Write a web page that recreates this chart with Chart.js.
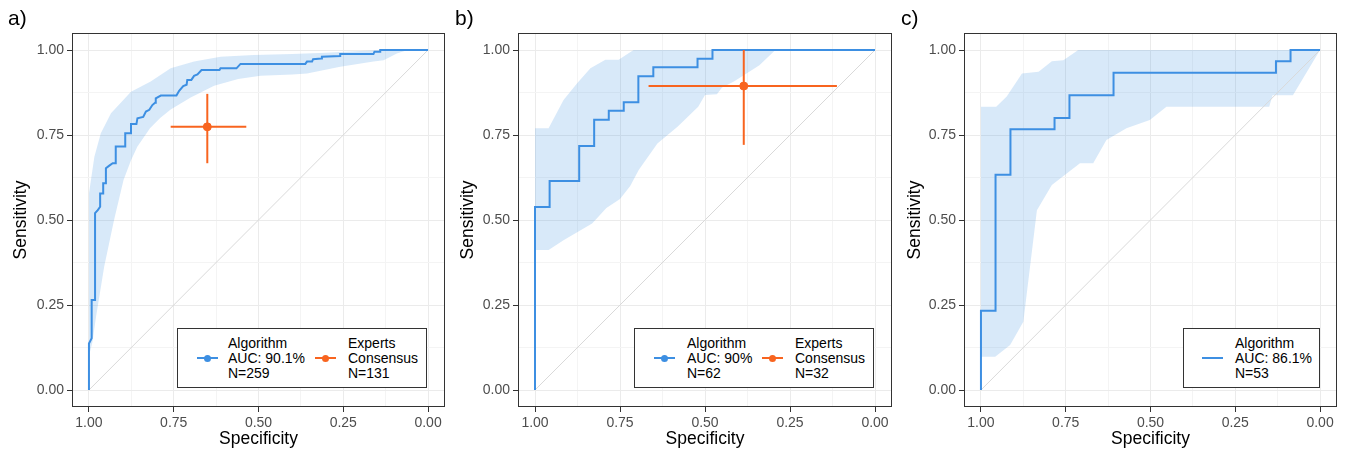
<!DOCTYPE html>
<html>
<head>
<meta charset="utf-8">
<script src="https://cdn.jsdelivr.net/npm/chart.js@4.4.1/dist/chart.umd.min.js"></script>
<style>
  body { margin: 0; background: #fff; font-family: "Liberation Sans", Arial, sans-serif; }
  #wrap { position: relative; width: 1350px; height: 454px; overflow: hidden; }
  canvas { position: absolute; top: 0; }
  .tag { position: absolute; top: 7px; font-size: 21px; line-height: 21px; color: #000; }
  .legend { position: absolute; top: 328px; height: 60px; box-sizing: border-box; border: 1px solid #333; background: #fff; }
  .legend .ln { position: absolute; top: 28px; width: 21px; height: 2px; }
  .legend .dot { position: absolute; top: 25.5px; width: 7px; height: 7px; border-radius: 50%; }
  .legend .txt { position: absolute; top: 7px; font-size: 14px; line-height: 15px; color: #000; white-space: nowrap; }
</style>
</head>
<body>
<div id="wrap">
  <canvas id="roc-a" width="450" height="454" style="left:0px"></canvas>
  <canvas id="roc-b" width="450" height="454" style="left:450px"></canvas>
  <canvas id="roc-c" width="450" height="454" style="left:900px"></canvas>
</div>
<script>
// axis ticks
const tickValues = [0, 0.25, 0.5, 0.75, 1];
const tickLabels = ["0.00", "0.25", "0.50", "0.75", "1.00"];
const gridValues = [0, 0.125, 0.25, 0.375, 0.5, 0.625, 0.75, 0.875, 1];

// a) ROC curve, N=259
const specA = [1, 1, 0.992, 0.992, 0.982, 0.982, 0.974, 0.967, 0.967, 0.958, 0.958, 0.950, 0.950, 0.940, 0.930, 0.921, 0.921, 0.893, 0.893, 0.876, 0.876, 0.860, 0.857, 0.840, 0.832, 0.822, 0.813, 0.805, 0.803, 0.788, 0.742, 0.734, 0.722, 0.712, 0.710, 0.698, 0.690, 0.680, 0.668, 0.615, 0.612, 0.565, 0.553, 0.362, 0.357, 0.342, 0.339, 0.315, 0.313, 0.259, 0.259, 0.161, 0.158, 0.141, 0.141, 0];
const sensA = [0, 0.137, 0.152, 0.265, 0.265, 0.520, 0.529, 0.539, 0.578, 0.578, 0.608, 0.608, 0.652, 0.660, 0.667, 0.667, 0.716, 0.716, 0.755, 0.755, 0.782, 0.782, 0.799, 0.803, 0.819, 0.824, 0.838, 0.845, 0.858, 0.866, 0.866, 0.880, 0.894, 0.898, 0.912, 0.912, 0.924, 0.928, 0.941, 0.941, 0.946, 0.946, 0.959, 0.959, 0.966, 0.966, 0.973, 0.975, 0.980, 0.982, 0.988, 0.988, 0.995, 0.995, 1, 1];
const bandUpperA = [[1, 0.578], [0.984, 0.686], [0.965, 0.755], [0.935, 0.814], [0.876, 0.877], [0.818, 0.907], [0.759, 0.946], [0.690, 0.966], [0.612, 0.980], [0.514, 0.985], [0.40, 0.988], [0.30, 0.992], [0.20, 0.997], [0.12, 1], [0, 1]];
const bandLowerA = [[1, 0.10], [0.990, 0.14], [0.979, 0.216], [0.955, 0.363], [0.926, 0.5], [0.912, 0.559], [0.898, 0.618], [0.876, 0.676], [0.857, 0.716], [0.820, 0.770], [0.790, 0.800], [0.759, 0.825], [0.70, 0.860], [0.631, 0.895], [0.560, 0.915], [0.494, 0.924], [0.40, 0.928], [0.357, 0.931], [0.259, 0.951], [0.161, 0.966], [0.131, 0.970], [0.092, 0.990], [0.06, 1], [0, 1]];
const expertA = [0.651, 0.774];
const expertSpecCIA = [0.759, 0.536];
const expertSensCIA = [0.667, 0.871];
const legendAlgoA = ["Algorithm", "AUC: 90.1%", "N=259"];
const legendExpA = ["Experts", "Consensus", "N=131"];

// b) ROC curve, N=62
const specB = [1, 1, 0.957, 0.957, 0.870, 0.870, 0.826, 0.826, 0.783, 0.783, 0.739, 0.739, 0.696, 0.696, 0.652, 0.652, 0.522, 0.522, 0.478, 0.478, 0];
const sensB = [0, 0.538, 0.538, 0.615, 0.615, 0.718, 0.718, 0.795, 0.795, 0.821, 0.821, 0.846, 0.846, 0.923, 0.923, 0.949, 0.949, 0.974, 0.974, 1, 1];
const bandUpperB = [[1, 0.770], [0.96, 0.770], [0.916, 0.853], [0.876, 0.902], [0.837, 0.946], [0.793, 0.971], [0.754, 0.971], [0.710, 1], [0, 1]];
const bandLowerB = [[1, 0.412], [0.96, 0.412], [0.915, 0.441], [0.832, 0.49], [0.79, 0.535], [0.75, 0.562], [0.72, 0.60], [0.695, 0.647], [0.64, 0.725], [0.58, 0.775], [0.52, 0.833], [0.50, 0.868], [0.465, 0.870], [0.45, 0.89], [0.415, 0.907], [0.34, 0.955], [0.293, 1], [0, 1]];
const expertB = [0.386, 0.894];
const expertSpecCIB = [0.666, 0.112];
const expertSensCIB = [0.721, 1.0];
const legendAlgoB = ["Algorithm", "AUC: 90%", "N=62"];
const legendExpB = ["Experts", "Consensus", "N=32"];

// c) ROC curve, N=53
const specC = [1, 1, 0.957, 0.957, 0.913, 0.913, 0.783, 0.783, 0.739, 0.739, 0.609, 0.609, 0.130, 0.130, 0.087, 0.087, 0];
const sensC = [0, 0.233, 0.233, 0.633, 0.633, 0.767, 0.767, 0.8, 0.8, 0.867, 0.867, 0.933, 0.933, 0.967, 0.967, 1, 1];
const bandUpperC = [[1, 0.833], [0.955, 0.833], [0.924, 0.863], [0.879, 0.931], [0.830, 0.936], [0.791, 0.967], [0.757, 0.970], [0.713, 1], [0, 1]];
const bandLowerC = [[1, 0.098], [0.958, 0.098], [0.914, 0.132], [0.875, 0.201], [0.835, 0.529], [0.791, 0.603], [0.708, 0.667], [0.669, 0.667], [0.630, 0.735], [0.571, 0.770], [0.502, 0.794], [0.453, 0.833], [0.15, 0.833], [0.14, 0.867], [0.08, 0.867], [0, 1]];
const legendAlgoC = ["Algorithm", "AUC: 86.1%", "N=53"];

const diagonal = [[1, 0], [0, 1]];

const FONT = "'Liberation Sans', Arial, sans-serif";
const BLUE = "#3d8fe2";
const BAND = "rgba(61, 143, 226, 0.2)";
const ORANGE = "#f8641f";
const DIAG = "#d9d9d9";
const NONE = "rgba(0,0,0,0)";

function pairs(arr) {
  return arr.map(p => ({ x: p[0], y: p[1] }));
}

function zip(spec, sens) {
  return spec.map((s, i) => ({ x: s, y: sens[i] }));
}

function lineSet(data, color, width, order, extra) {
  return Object.assign({
    data: data,
    showLine: true,
    borderColor: color,
    borderWidth: width,
    pointRadius: 0,
    fill: false,
    tension: 0,
    order: order
  }, extra || {});
}

function isMajor(ctx) {
  return ctx.tick && tickValues.indexOf(ctx.tick.value) >= 0;
}

function axis(title, reverse, titlePad, fit) {
  return {
    type: "linear",
    min: -0.05,
    max: 1.05,
    reverse: reverse,
    afterBuildTicks: a => { a.ticks = gridValues.map(v => ({ value: v })); },
    afterFit: fit,
    ticks: {
      autoSkip: false,
      maxRotation: 0,
      minRotation: 0,
      padding: 3,
      color: "#4d4d4d",
      font: { family: FONT, size: 14 },
      callback: function(value) {
        const i = tickValues.indexOf(value);
        return i >= 0 ? tickLabels[i] : "";
      }
    },
    grid: {
      color: c => isMajor(c) ? "#ebebeb" : "#f4f4f4",
      lineWidth: 1,
      tickLength: 5,
      tickWidth: 1,
      tickColor: c => isMajor(c) ? "#333333" : NONE
    },
    border: { display: false },
    title: {
      display: true,
      text: title,
      color: "#000",
      font: { family: FONT, size: 17.5 },
      padding: titlePad
    }
  };
}

// panel frame
const framePlugin = {
  id: "frame",
  afterDraw(chart) {
    const a = chart.chartArea;
    const ctx = chart.ctx;
    ctx.save();
    ctx.strokeStyle = "#333333";
    ctx.lineWidth = 1;
    ctx.strokeRect(Math.round(a.left) + 0.5, Math.round(a.top) + 0.5, Math.round(a.right - a.left) - 1, Math.round(a.bottom - a.top) - 1);
    ctx.restore();
  }
};

function makePanel(id, cfg) {
  const datasets = [
    lineSet(pairs(cfg.upper), NONE, 0, 6, { fill: "+1", backgroundColor: BAND }),
    lineSet(pairs(cfg.lower), NONE, 0, 7),
    lineSet(pairs(diagonal), DIAG, 1, 5),
    lineSet(cfg.roc, BLUE, 2, 4)
  ];
  if (cfg.expert) {
    const e = cfg.expert;
    datasets.push(lineSet([{ x: cfg.specCI[0], y: e[1] }, { x: cfg.specCI[1], y: e[1] }], ORANGE, 2, 2));
    datasets.push(lineSet([{ x: e[0], y: cfg.sensCI[0] }, { x: e[0], y: cfg.sensCI[1] }], ORANGE, 2, 2));
    datasets.push({
      data: [{ x: e[0], y: e[1] }],
      showLine: false,
      pointRadius: 4,
      pointBackgroundColor: ORANGE,
      pointBorderColor: ORANGE,
      order: 1
    });
  }

  new Chart(document.getElementById(id).getContext("2d"), {
    type: "scatter",
    data: { datasets: datasets },
    options: {
      responsive: false,
      animation: false,
      devicePixelRatio: 1,
      layout: { padding: { top: 33, right: cfg.padRight, left: 0, bottom: 0 } },
      plugins: { legend: { display: false }, tooltip: { enabled: false } },
      scales: {
        x: axis("Specificity", true, { top: 0, bottom: 4 }, s => { s.height = 47; }),
        y: axis("Sensitivity", false, { top: cfg.yTitlePad, bottom: 0 }, s => { s.width = cfg.yWidth; })
      }
    },
    plugins: [framePlugin]
  });

  // panel tag
  const wrap = document.getElementById("wrap");
  const tag = document.createElement("div");
  tag.className = "tag";
  tag.style.left = cfg.tagLeft + "px";
  tag.textContent = cfg.tag;
  wrap.appendChild(tag);

  // legend box
  const box = document.createElement("div");
  box.className = "legend";
  box.style.left = cfg.legend.left + "px";
  box.style.width = cfg.legend.width + "px";
  cfg.legend.items.forEach(item => {
    const ln = document.createElement("div");
    ln.className = "ln";
    ln.style.left = item.sym + "px";
    ln.style.background = item.color;
    box.appendChild(ln);
    if (item.dot) {
      const dot = document.createElement("div");
      dot.className = "dot";
      dot.style.left = (item.sym + 7) + "px";
      dot.style.background = item.color;
      box.appendChild(dot);
    }
    const txt = document.createElement("div");
    txt.className = "txt";
    txt.style.left = item.text + "px";
    txt.innerHTML = item.lines.join("<br>");
    box.appendChild(txt);
  });
  wrap.appendChild(box);
}

makePanel("roc-a", {
  roc: zip(specA, sensA), upper: bandUpperA, lower: bandLowerA,
  expert: expertA, specCI: expertSpecCIA, sensCI: expertSensCIA,
  yWidth: 72, padRight: 5, yTitlePad: 11, tag: "a)", tagLeft: 8,
  legend: { left: 177, width: 250, items: [
    { sym: 19, text: 50, color: BLUE, dot: true, lines: legendAlgoA },
    { sym: 137, text: 170, color: ORANGE, dot: true, lines: legendExpA }
  ] }
});

makePanel("roc-b", {
  roc: zip(specB, sensB), upper: bandUpperB, lower: bandLowerB,
  expert: expertB, specCI: expertSpecCIB, sensCI: expertSensCIB,
  yWidth: 68, padRight: 8, yTitlePad: 7.5, tag: "b)", tagLeft: 455,
  legend: { left: 634, width: 240, items: [
    { sym: 19, text: 52, color: BLUE, dot: true, lines: legendAlgoB },
    { sym: 127, text: 160, color: ORANGE, dot: true, lines: legendExpB }
  ] }
});

makePanel("roc-c", {
  roc: zip(specC, sensC), upper: bandUpperC, lower: bandLowerC,
  expert: null,
  yWidth: 64, padRight: 13, yTitlePad: 4.5, tag: "c)", tagLeft: 901,
  legend: { left: 1183, width: 137, items: [
    { sym: 18, text: 51, color: BLUE, dot: false, lines: legendAlgoC }
  ] }
});
</script>
</body>
</html>
